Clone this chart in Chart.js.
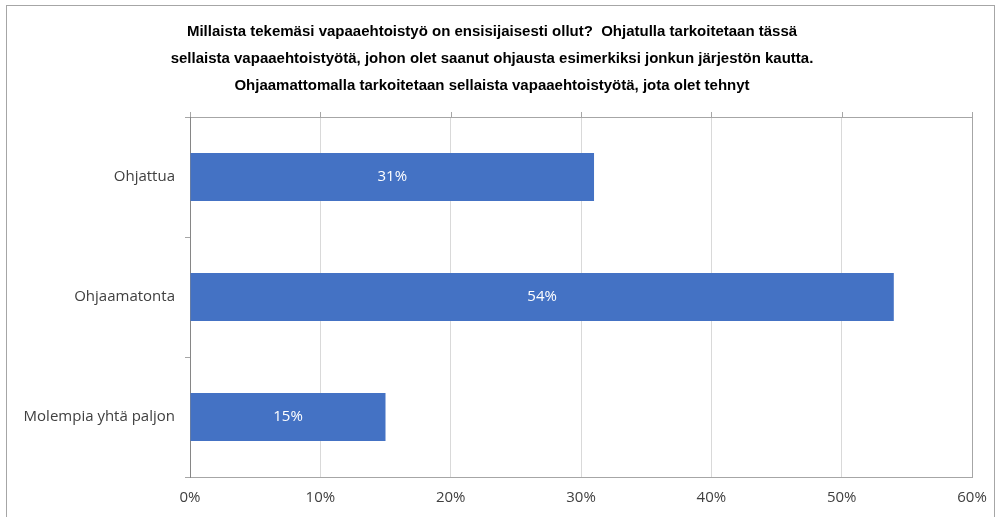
<!DOCTYPE html>
<html>
<head>
<meta charset="utf-8">
<script src="https://cdn.jsdelivr.net/npm/chart.js@4"></script>
<style>
  html, body { margin: 0; padding: 0; background: #ffffff; }
  #wrap { position: relative; width: 999px; height: 517px; overflow: hidden; }
  #frame { position: absolute; left: 6px; top: 5px; width: 989px; height: 530px; border: 1px solid #a6a6a6; box-sizing: border-box; pointer-events: none; }
  canvas { position: absolute; left: 0; top: 0; }
</style>
</head>
<body>
<div id="wrap">
  <canvas id="c" width="999" height="517"></canvas>
  <div id="frame"></div>
</div>
<script>
const titleLines = [
  "Millaista tekemäsi vapaaehtoistyö on ensisijaisesti ollut?  Ohjatulla tarkoitetaan tässä",
  "sellaista vapaaehtoistyötä, johon olet saanut ohjausta esimerkiksi jonkun järjestön kautta.",
  "Ohjaamattomalla tarkoitetaan sellaista vapaaehtoistyötä, jota olet tehnyt"
];
const categories = ["Ohjattua", "Ohjaamatonta", "Molempia yhtä paljon"];
const values = [31, 54, 15];
const xTicks = [0, 10, 20, 30, 40, 50, 60];

const LABEL_FONT = "'Open Sans', 'Noto Sans', sans-serif";
const TITLE_FONT = "'Liberation Sans Narrow', 'Liberation Sans', sans-serif";

const frameAndTicks = {
  id: 'frameAndTicks',
  beforeDatasetsDraw(chart) {
    const ctx = chart.ctx, a = chart.chartArea, xs = chart.scales.x;
    ctx.save();
    ctx.strokeStyle = '#a6a6a6';
    ctx.lineWidth = 1;
    ctx.strokeRect(Math.round(a.left) + 0.5, Math.round(a.top) + 0.5, Math.round(a.right - a.left), Math.round(a.bottom - a.top));
    ctx.beginPath();
    for (const v of xTicks) {
      const px = Math.round(xs.getPixelForValue(v)) + 0.5;
      ctx.moveTo(px, Math.round(a.top) - 5);
      ctx.lineTo(px, Math.round(a.top));
    }
    ctx.stroke();
    ctx.strokeStyle = '#868686';
    ctx.beginPath();
    ctx.moveTo(Math.round(a.left) + 0.5, Math.round(a.top));
    ctx.lineTo(Math.round(a.left) + 0.5, Math.round(a.bottom) + 1);
    ctx.stroke();
    ctx.restore();
  },
  afterDatasetsDraw(chart) {
    const ctx = chart.ctx;
    const meta = chart.getDatasetMeta(0);
    ctx.save();
    ctx.fillStyle = '#ffffff';
    ctx.font = "15px " + LABEL_FONT;
    ctx.textAlign = 'center';
    ctx.textBaseline = 'middle';
    meta.data.forEach((bar, i) => {
      const cx = (bar.x + bar.base) / 2;
      ctx.fillText(values[i] + '%', cx, bar.y);
    });
    ctx.restore();
  }
};

new Chart(document.getElementById('c'), {
  type: 'bar',
  data: {
    labels: categories,
    datasets: [{
      data: values,
      backgroundColor: '#4472c4',
      borderWidth: 0,
      barPercentage: 0.4,
      categoryPercentage: 1.0
    }]
  },
  options: {
    indexAxis: 'y',
    responsive: false,
    animation: false,
    devicePixelRatio: 1,
    layout: { padding: { left: 12, right: 27, top: 0, bottom: 0 } },
    plugins: {
      legend: { display: false },
      tooltip: { enabled: false },
      title: {
        display: true,
        text: titleLines,
        color: '#000000',
        font: { family: TITLE_FONT, size: 15, weight: 'bold', lineHeight: 1.8 },
        padding: { top: 18, bottom: 18 }
      }
    },
    scales: {
      x: {
        min: 0, max: 60,
        afterBuildTicks(scale) { scale.ticks = xTicks.map(v => ({ value: v })); },
        afterFit(scale) { scale.height = 40; },
        grid: { color: '#d9d9d9', drawTicks: false },
        border: { display: false },
        ticks: {
          color: '#404040',
          padding: 12,
          font: { family: LABEL_FONT, size: 15 },
          callback: v => v + '%'
        }
      },
      y: {
        afterFit(scale) { scale.width = 178; },
        grid: { drawOnChartArea: false, color: '#a6a6a6', tickLength: 5, offset: true },
        border: { display: false },
        ticks: {
          color: '#404040',
          padding: 10,
          font: { family: LABEL_FONT, size: 15 }
        }
      }
    }
  },
  plugins: [frameAndTicks]
});
</script>
</body>
</html>
